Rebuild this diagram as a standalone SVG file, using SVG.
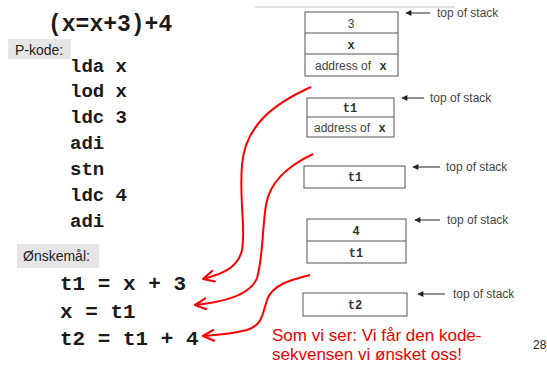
<svg xmlns="http://www.w3.org/2000/svg" width="547" height="367" viewBox="0 0 547 367">
  <style>
    .code { font-family: "Liberation Mono", "Courier New", monospace; font-weight: bold; fill: #1a1a1a; }
    .lbl { font-family: "Liberation Sans", Arial, sans-serif; fill: #222; }
    .tag { fill: #e6e6e6; }
    .cell { fill: #fff; stroke: #555; stroke-width: 1; }
    .div { stroke: #555; stroke-width: 1; }
    .cellTxt { font-family: "Liberation Sans", Arial, sans-serif; font-size: 12px; fill: #444; text-anchor: middle; }
    .cellCode { font-family: "Liberation Mono", "Courier New", monospace; font-weight: bold; font-size: 12px; fill: #333; text-anchor: middle; }
    .tos { font-family: "Liberation Sans", Arial, sans-serif; font-size: 12px; fill: #444; }
    .ptr { stroke: #222; stroke-width: 1; fill: none; marker-end: url(#tip); }
    .flow { stroke: #ff0000; stroke-width: 2; fill: none; marker-end: url(#redTip); }
    .note { font-family: "Liberation Sans", Arial, sans-serif; font-size: 17px; fill: #ee0000; }
  </style>
  <defs>
    <marker id="tip" viewBox="0 0 10 10" refX="9" refY="5" markerWidth="9" markerHeight="6" markerUnits="userSpaceOnUse" orient="auto">
      <path d="M0,0 L10,5 L0,10 z" fill="#222"/>
    </marker>
    <marker id="redTip" viewBox="0 0 12 12" refX="11" refY="6" markerWidth="13" markerHeight="13" markerUnits="userSpaceOnUse" orient="auto">
      <path d="M1,1 L11,6 L1,11" fill="none" stroke="#ff0000" stroke-width="2" stroke-linecap="round" stroke-linejoin="round"/>
    </marker>
  </defs>

  <!-- expression and P-code listing -->
  <g id="expression">
    <text class="code" x="48" y="31" font-size="23">(x=x+3)+4</text>
  </g>
  <g id="pcode-label">
    <rect class="tag" x="8" y="39" width="63" height="20"/>
    <text class="lbl" x="15" y="55" font-size="14">P-kode:</text>
  </g>
  <g id="pcode" class="code" font-size="19">
    <text x="70" y="72">lda x</text>
    <text x="70" y="97">lod x</text>
    <text x="70" y="123">ldc 3</text>
    <text x="70" y="149">adi</text>
    <text x="70" y="175">stn</text>
    <text x="70" y="201">ldc 4</text>
    <text x="70" y="227">adi</text>
  </g>

  <!-- desired three-address code -->
  <g id="target-label">
    <rect class="tag" x="17" y="244" width="82" height="24"/>
    <text class="lbl" x="23" y="261" font-size="14">Ønskemål:</text>
  </g>
  <g id="target" class="code" font-size="21">
    <text x="60" y="290">t1 = x + 3</text>
    <text x="60" y="318">x = t1</text>
    <text x="60" y="345">t2 = t1 + 4</text>
  </g>

  <!-- stack snapshots -->
  <line x1="255" y1="7" x2="455" y2="7" stroke="#e2e2e2" stroke-width="2"/>
  <g id="stack1">
    <rect class="cell" x="305" y="12" width="93" height="64"/>
    <line class="div" x1="305" y1="33" x2="398" y2="33"/>
    <line class="div" x1="305" y1="54" x2="398" y2="54"/>
    <text class="cellTxt" x="351" y="28">3</text>
    <text class="cellCode" x="351" y="49">x</text>
    <text class="cellTxt" x="343" y="70">address of</text>
    <text class="cellCode" x="383" y="70">x</text>
    <line class="ptr" x1="430" y1="13" x2="406" y2="13"/>
    <text class="tos" x="437" y="17">top of stack</text>
  </g>
  <g id="stack2">
    <rect class="cell" x="307" y="98" width="87" height="39"/>
    <line class="div" x1="307" y1="117" x2="394" y2="117"/>
    <text class="cellCode" x="350" y="112">t1</text>
    <text class="cellTxt" x="342" y="132">address of</text>
    <text class="cellCode" x="382" y="132">x</text>
    <line class="ptr" x1="424" y1="98" x2="402" y2="98"/>
    <text class="tos" x="430" y="102">top of stack</text>
  </g>
  <g id="stack3">
    <rect class="cell" x="304" y="166" width="101" height="22"/>
    <text class="cellCode" x="355" y="181">t1</text>
    <line class="ptr" x1="440" y1="167" x2="413" y2="167"/>
    <text class="tos" x="446" y="171">top of stack</text>
  </g>
  <g id="stack4">
    <rect class="cell" x="307" y="219" width="99" height="44"/>
    <line class="div" x1="307" y1="241" x2="406" y2="241"/>
    <text class="cellCode" x="356" y="235">4</text>
    <text class="cellCode" x="356" y="257">t1</text>
    <line class="ptr" x1="440" y1="220" x2="415" y2="220"/>
    <text class="tos" x="447" y="224">top of stack</text>
  </g>
  <g id="stack5">
    <rect class="cell" x="303" y="293" width="104" height="23"/>
    <text class="cellCode" x="355" y="309">t2</text>
    <line class="ptr" x1="445" y1="294" x2="418" y2="294"/>
    <text class="tos" x="453" y="298">top of stack</text>
  </g>

  <!-- red links from stack states to generated code -->
  <g id="connectors">
    <path class="flow" d="M311,87 C275,103 245,125 242,165 C239,200 246,228 242,250 C238,268 222,274 203,279"/>
    <path class="flow" d="M313,154 C290,165 270,180 266,205 C262,230 263,258 257,278 C250,296 222,302 195,305"/>
    <path class="flow" d="M310,275 C290,280 272,285 267,300 C262,316 262,325 247,330 C232,334 217,335 203,336"/>
  </g>

  <g id="note">
    <text class="note" x="272" y="341">Som vi ser: Vi får den kode-</text>
    <text class="note" x="272" y="360">sekvensen vi ønsket oss!</text>
  </g>
  <text class="lbl" x="533" y="349" font-size="12">28</text>
</svg>
